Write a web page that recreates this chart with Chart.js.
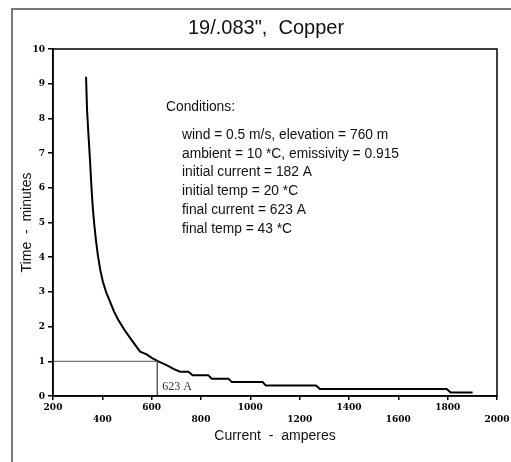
<!DOCTYPE html>
<html>
<head>
<meta charset="utf-8">
<script src="https://cdn.jsdelivr.net/npm/chart.js@4"></script>
<style>
  html, body { margin: 0; padding: 0; background: #fff; }
  #wrap { width: 511px; height: 462px; }
</style>
</head>
<body>
<div id="wrap"><canvas id="myChart" width="511" height="462"></canvas></div>
<script>
// values
var chartTitle = '19/.083",  Copper';
var currentA = [334, 338, 344, 350, 356, 362, 368, 374, 382, 392, 402, 415, 431, 447, 465, 490, 519, 553, 580, 600, 627,
  654, 674, 688, 715, 749, 766, 830, 843, 911, 925, 1050, 1063, 1266, 1282, 1796, 1812, 1901];
var timeMin = [9.2, 8.25, 7.5, 6.8, 6.0, 5.36, 4.9, 4.5, 4.05, 3.62, 3.3, 3.0, 2.72, 2.44, 2.19, 1.9, 1.61, 1.28, 1.2, 1.1, 1.0,
  0.91, 0.84, 0.78, 0.7, 0.7, 0.6, 0.6, 0.5, 0.5, 0.4, 0.4, 0.3, 0.3, 0.2, 0.2, 0.1, 0.1];
var finalCurrent = 623;
var markTime = 1;
var xTickUpper = [200, 600, 1000, 1400, 1800];
var xTickLower = [400, 800, 1200, 1600, 2000];
var conditions = [
  'wind = 0.5 m/s, elevation = 760 m',
  'ambient = 10 *C, emissivity = 0.915',
  'initial current = 182 A',
  'initial temp = 20 *C',
  'final current = 623 A',
  'final temp = 43 *C'
];

var curve = [];
for (var i = 0; i < currentA.length; i++) {
  curve.push({x: currentA[i], y: timeMin[i]});
}
var marker = [{x: 200, y: markTime}, {x: finalCurrent, y: markTime}, {x: finalCurrent, y: 0}];

var tickFont = {family: "'DejaVu Serif Condensed', 'Liberation Serif', serif", size: 10, weight: 'bold'};

// frame, title, plot box and the text notes
var extras = {
  id: 'extras',
  beforeDraw: function (chart) {
    var c = chart.ctx;
    c.save();
    c.fillStyle = '#fff';
    c.fillRect(0, 0, chart.width, chart.height);
    c.strokeStyle = '#777';
    c.lineWidth = 2;
    c.beginPath();
    c.moveTo(12, chart.height);
    c.lineTo(12, 9);
    c.lineTo(chart.width, 9);
    c.stroke();
    c.restore();
  },
  afterDraw: function (chart) {
    var c = chart.ctx;
    var a = chart.chartArea;
    var xs = chart.scales.x, ys = chart.scales.y;
    c.save();
    c.strokeStyle = '#000';
    c.lineWidth = 1.5;
    c.strokeRect(a.left, a.top, a.right - a.left, a.bottom - a.top);

    c.fillStyle = '#111';
    c.textAlign = 'center';
    c.textBaseline = 'middle';
    c.font = '20px "Liberation Sans", Arial, sans-serif';
    c.fillText(chartTitle, 266, 28);

    c.textAlign = 'left';
    c.font = '13.8px "Liberation Sans", Arial, sans-serif';
    c.fillText('Conditions:', a.left + 113, a.top + 58);
    for (var i = 0; i < conditions.length; i++) {
      c.fillText(conditions[i], a.left + 129, a.top + 86 + i * 18.8);
    }
    c.fillStyle = '#333';
    c.font = '12px "Liberation Serif", "Times New Roman", serif';
    c.fillText(finalCurrent + ' A', xs.getPixelForValue(finalCurrent) + 5, ys.getPixelForValue(0.27));
    c.restore();
  }
};

new Chart(document.getElementById('myChart'), {
  type: 'line',
  data: {
    datasets: [{
      data: marker,
      borderColor: '#555',
      borderWidth: 1,
      pointRadius: 0,
      tension: 0
    }, {
      data: curve,
      borderColor: '#000',
      borderWidth: 2,
      pointRadius: 0,
      tension: 0
    }]
  },
  options: {
    responsive: false,
    animation: false,
    layout: { padding: {left: 0, right: 14, top: 49, bottom: 0} },
    plugins: {
      legend: { display: false },
      tooltip: { enabled: false },
      title: { display: false }
    },
    scales: {
      x: {
        type: 'linear',
        min: 200,
        max: 2000,
        afterFit: function (s) { s.height = 66; },
        afterBuildTicks: function (s) {
          s.ticks = xTickUpper.concat(xTickLower).sort(function (p, q) { return p - q; })
            .map(function (v) { return {value: v}; });
        },
        ticks: {
          autoSkip: false,
          maxRotation: 0,
          color: '#000',
          font: tickFont,
          padding: 1,
          callback: function (v) {
            if (xTickUpper.indexOf(v) >= 0) return [String(v), ''];
            return ['', String(v)];
          }
        },
        grid: { drawOnChartArea: false, tickLength: 4, color: '#000', lineWidth: 1.5 },
        border: { color: '#000', width: 1.5 },
        title: {
          display: true,
          text: 'Current  -  amperes',
          color: '#111',
          font: {family: "'Liberation Sans', Arial, sans-serif", size: 14},
          padding: {top: 0, bottom: 17}
        }
      },
      y: {
        min: 0,
        max: 10,
        afterFit: function (s) { s.width = 53; },
        ticks: {
          stepSize: 1,
          color: '#000',
          font: tickFont,
          padding: 3
        },
        grid: { drawOnChartArea: false, tickLength: 5, color: '#000', lineWidth: 1.5 },
        border: { color: '#000', width: 1.5 },
        title: {
          display: true,
          text: 'Time  -  minutes',
          color: '#111',
          font: {family: "'Liberation Sans', Arial, sans-serif", size: 14},
          padding: {top: 19, bottom: 0}
        }
      }
    }
  },
  plugins: [extras]
});
</script>
</body>
</html>
